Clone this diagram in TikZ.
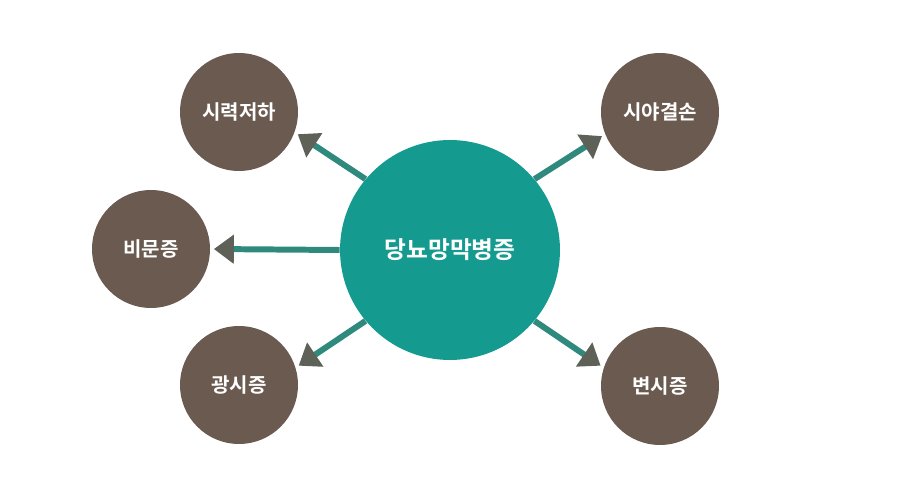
\documentclass[tikz,border=0pt]{standalone}
\usepackage{fontspec}
\setmainfont{Noto Sans CJK KR}[BoldFont={Noto Sans CJK KR Bold}]
\usepackage{tikz}
\usetikzlibrary{arrows.meta, positioning}
\definecolor{mTeal}{HTML}{149A8F}
\definecolor{mBrown}{HTML}{6A5A50}
\definecolor{mLine}{HTML}{2F8A7D}
\definecolor{mTip}{HTML}{5E6157}

\begin{document}
\begin{tikzpicture}[x=0.02cm, y=-0.02cm,
    mainnode/.style={circle, fill=mTeal, minimum size=4.4cm, inner sep=0pt,
      text=white, font=\fontsize{13.5}{15}\selectfont\bfseries},
    symptom/.style={circle, fill=mBrown, minimum size=2.36cm, inner sep=0pt,
      text=white, font=\fontsize{11.4}{13}\selectfont\bfseries},
    link/.style={mLine, line width=3.4pt, shorten >=2pt,
      -{Triangle[length=0.4cm, width=0.56cm, color=mTip]}}]
    \useasboundingbox (0,0) rectangle (900,500);
    % centre and the five symptoms
    \node[mainnode] (dr) at (450,250) {당뇨망막병증};
    \node[symptom] (acuity) at (239,112) {시력저하};
    \node[symptom] (field) at (660,112) {시야결손};
    \node[symptom] (floaters) at (151,249) {비문증};
    \node[symptom] (photopsia) at (239,385) {광시증};
    \node[symptom] (metamor) at (660,386) {변시증};
    % arrows out of the centre
    \foreach \s/\a/\b in {acuity/140/-20, field/40/202, floaters/180/0,
        photopsia/220/17, metamor/320/162}
      \draw[link] (dr.\a) -- (\s.\b);
  \end{tikzpicture}
\end{document}
